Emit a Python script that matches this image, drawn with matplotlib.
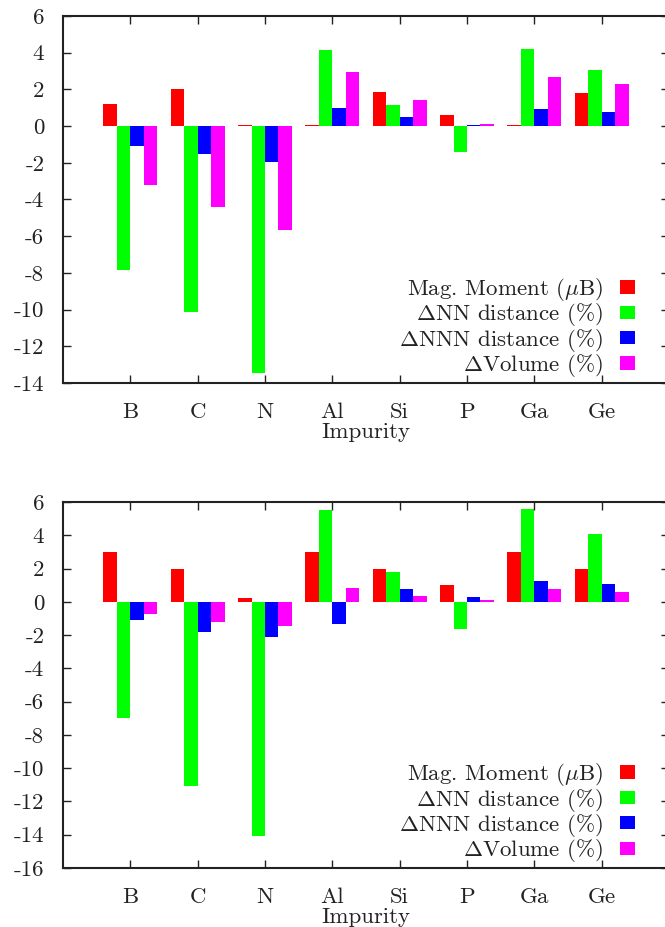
import matplotlib
matplotlib.use("Agg")
import matplotlib.pyplot as plt
import numpy as np
from matplotlib.patches import Patch

plt.rcParams['font.family'] = ['cmr10', 'DejaVu Serif']
plt.rcParams['mathtext.fontset'] = 'cm'
plt.rcParams['axes.unicode_minus'] = False
FS = 16.5
plt.rcParams['font.size'] = FS

categories = ["B", "C", "N", "Al", "Si", "P", "Ga", "Ge"]
series_labels = [r"Mag. Moment ($\mu$B)", r"$\Delta$NN distance (%)",
                 r"$\Delta$NNN distance (%)", r"$\Delta$Volume (%)"]
colors = ["#ff0000", "#00ff00", "#0000ff", "#ff00ff"]

# Top panel
top_mag = [1.2, 2.0, 0.05, 0.05, 1.85, 0.6, 0.05, 1.8]
top_nn = [-7.85, -10.15, -13.45, 4.15, 1.15, -1.42, 4.2, 3.08]
top_nnn = [-1.1, -1.5, -1.95, 1.0, 0.5, 0.08, 0.93, 0.78]
top_vol = [-3.23, -4.4, -5.65, 2.93, 1.43, 0.14, 2.7, 2.28]

# Bottom panel
bot_mag = [3.0, 2.0, 0.2, 3.0, 2.0, 1.0, 3.0, 2.0]
bot_nn = [-7.0, -11.1, -14.1, 5.52, 1.8, -1.66, 5.58, 4.05]
bot_nnn = [-1.08, -1.83, -2.12, -1.35, 0.76, 0.3, 1.25, 1.05]
bot_vol = [-0.75, -1.2, -1.48, 0.86, 0.36, 0.12, 0.77, 0.62]

top_ticks = [6, 4, 2, 0, -2, -4, -6, -8, -10, -12, -14]
bot_ticks = [6, 4, 2, 0, -2, -4, -6, -8, -10, -12, -14, -16]

W, H = 665, 927
fig = plt.figure(figsize=(W / 100, H / 100), dpi=100)

def make_panel(rect_px, series, yticks, ylim):
    l, t, r, b = rect_px
    ax = fig.add_axes([l / W, 1 - b / H, (r - l) / W, (b - t) / H])
    x = np.arange(1, len(categories) + 1)
    w = 0.2
    offsets = [-0.3, -0.1, 0.1, 0.3]
    for vals, c, off in zip(series, colors, offsets):
        ax.bar(x + off, vals, width=w, color=c, edgecolor='none', linewidth=0)
    ax.set_xlim(0, 9)
    ax.set_ylim(*ylim)
    ax.set_xticks(x)
    ax.set_xticklabels(categories)
    ax.set_yticks(yticks)
    ax.set_yticklabels([str(v) for v in yticks])
    for s in ax.spines.values():
        s.set_linewidth(1.5)
        s.set_color('#222222')
    ax.tick_params(axis='x', direction='in', length=6, width=1, top=True,
                   bottom=True, pad=14, colors='#222222', labelcolor='#222222')
    ax.tick_params(axis='y', direction='in', length=6, width=1, left=True,
                   right=True, pad=13.5, colors='#222222', labelcolor='#222222')
    ax.set_xlabel("Impurity", labelpad=0.5, color='#222222')
    handles = [Patch(facecolor=c, edgecolor='none') for c in colors]
    ax.legend(handles, series_labels, loc='center right',
              bbox_to_anchor=(0.944, 0.151), frameon=False, markerfirst=False,
              handlelength=0.66, handleheight=0.52, handletextpad=0.74,
              labelspacing=-0.07, borderpad=0, borderaxespad=0,
              fontsize=FS, labelcolor='#222222')
    return ax

make_panel((63, 16, 669, 383), [top_mag, top_nn, top_nnn, top_vol], top_ticks, (-14, 6))
make_panel((63, 502, 669, 868), [bot_mag, bot_nn, bot_nnn, bot_vol], bot_ticks, (-16, 6))

fig.savefig("out.png", dpi=100)
